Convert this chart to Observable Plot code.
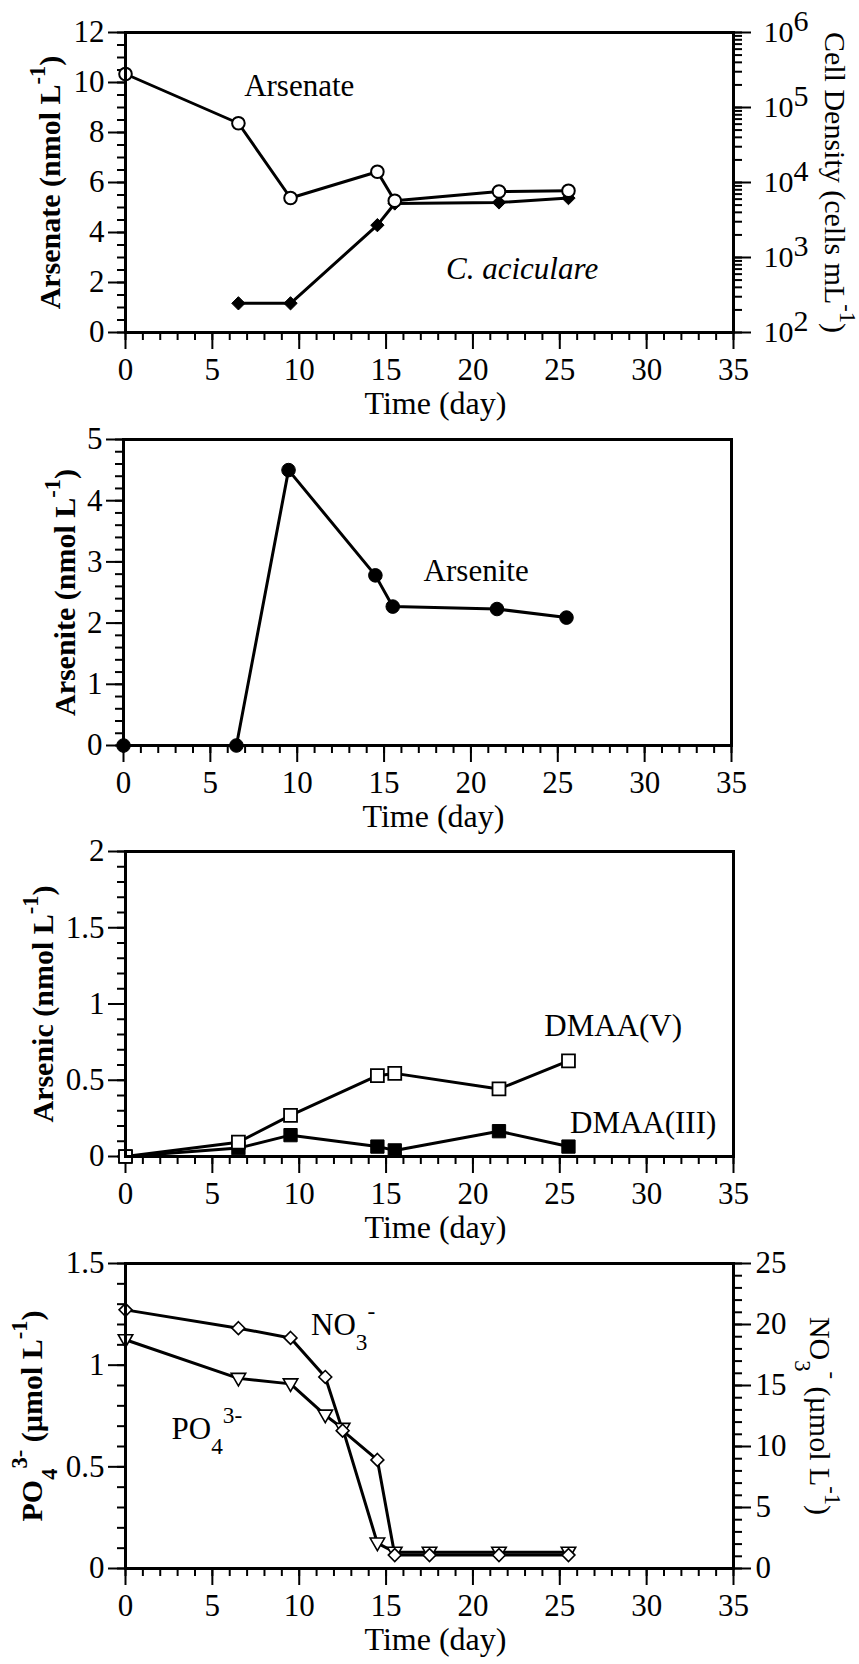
<!DOCTYPE html>
<html>
<head>
<meta charset="utf-8">
<script src="https://cdn.jsdelivr.net/npm/d3@7"></script>
<script src="https://cdn.jsdelivr.net/npm/@observablehq/plot@0.6"></script>
<style>
  html, body { margin: 0; padding: 0; background: #fff; }
  #chart svg { display: block; }
</style>
</head>
<body>
<div id="chart"></div>
<script>
// ---------- data ----------
const days = [0, 6.5, 9.5, 14.5, 15.5, 21.5, 25.5];
const arsenate = [10.34, 8.37, 5.38, 6.43, 5.27, 5.64, 5.67];
const cellDays = [6.5, 9.5, 14.5, 15.5, 21.5, 25.5];
const cellDensity = [245, 245, 2700, 5250, 5420, 6200];
const arsenite = [0, 0, 4.5, 2.78, 2.27, 2.23, 2.09];
const dmaaV = [0, 0.094, 0.27, 0.53, 0.545, 0.443, 0.627];
const dmaaIII = [0, 0.055, 0.14, 0.065, 0.04, 0.166, 0.065];
const nutrientDays = [0, 6.5, 9.5, 11.5, 12.5, 14.5, 15.5, 17.5, 21.5, 25.5];
const phosphate = [1.125, 0.935, 0.908, 0.754, 0.689, 0.125, 0.08, 0.08, 0.08, 0.08];
const nitrate = [21.2, 19.7, 18.9, 15.7, 11.3, 8.9, 1.1, 1.1, 1.1, 1.1];

const xMajorTicks = [0, 5, 10, 15, 20, 25, 30, 35];
const cellTicks = [1e2, 1e3, 1e4, 1e5, 1e6];
const nitrateTicks = [0, 5, 10, 15, 20, 25];

// ---------- helpers ----------
const FONT = "'Liberation Serif', 'Times New Roman', serif";
const logToLeft = (c) => (Math.log10(c) - 2) * 3;        // 10^2..10^6 -> 0..12
const no3ToLeft = (v) => v * 0.06;                        // 0..25 -> 0..1.5
const cellMinor = [];
for (let k = 2; k < 6; k++) for (let m = 1; m < 10; m++) cellMinor.push(m * Math.pow(10, k));
cellMinor.push(1e6);

const triangleDown = {
  draw(context, size) {
    const r = Math.sqrt(size / Math.PI);
    const w = r * 1.15, h1 = r * 0.8, h2 = r * 1.2;
    context.moveTo(-w, -h1);
    context.lineTo(w, -h1);
    context.lineTo(0, h2);
    context.closePath();
  }
};

function commonMarks(o) {
  return [
    Plot.axisX(d3.range(0, 36, 1), {tickSize: 8, tickFormat: () => "", strokeWidth: 2, label: null}),
    Plot.axisX(xMajorTicks, {tickSize: 17, tickPadding: 8, fontSize: 31, strokeWidth: 2, label: null, tickFormat: d3.format("d")}),
    Plot.axisY(o.yMinor, {tickSize: 8, tickFormat: () => "", strokeWidth: 2, label: null}),
    Plot.axisY(o.yMajor, {tickSize: 17, tickPadding: 4, fontSize: 31, strokeWidth: 2, label: null, tickFormat: o.yFormat}),
    Plot.text(["Time (day)"], {frameAnchor: "bottom", dy: 71, dx: 6, fontSize: 32, lineAnchor: "middle", textAnchor: "middle"}),
    Plot.text([o.leftTitle], {frameAnchor: "left", dx: o.leftDx, rotate: -90, fontSize: 30, fontWeight: "bold", lineAnchor: "middle", textAnchor: "middle"})
  ];
}

function makePlot(o) {
  return Plot.plot({
    width: 859,
    height: o.height,
    marginTop: o.mt,
    marginBottom: o.mb,
    marginLeft: o.ml ?? 125,
    marginRight: o.mr ?? 126,
    style: {fontFamily: FONT, background: "white", color: "black", overflow: "visible"},
    x: {domain: [0, 35]},
    y: {domain: o.yDomain},
    marks: [
      ...commonMarks(o),
      ...o.marks,
      Plot.frame({stroke: "black", strokeWidth: 3})
    ]
  });
}

// ---------- panels ----------
const p1 = makePlot({
  height: 410, mt: 32, mb: 78,
  yDomain: [0, 12],
  yMajor: d3.range(0, 13, 2),
  yMinor: d3.range(0, 12.01, 0.5),
  yFormat: d3.format("d"),
  leftTitle: "Arsenate (nmol L^{-1})", leftDx: -75,
  marks: [
    Plot.axisY(cellMinor.map(logToLeft), {anchor: "right", tickSize: 8, tickFormat: () => "", strokeWidth: 2, label: null}),
    Plot.axisY(cellTicks.map(logToLeft), {anchor: "right", tickSize: 17, tickPadding: 13, fontSize: 30, strokeWidth: 2, label: null,
      textAnchor: "start", tickFormat: (d) => "10^^{" + Math.round(d / 3 + 2) + "}"}),
    Plot.text(["Cell Density (cells mL^{-1})"], {frameAnchor: "right", dx: 101, rotate: 90, fontSize: 30, lineAnchor: "middle", textAnchor: "middle"}),
    Plot.line(cellDensity, {x: cellDays, y: (d) => logToLeft(d), stroke: "black", strokeWidth: 3}),
    Plot.line(arsenate, {x: days, y: arsenate, stroke: "black", strokeWidth: 3}),
    Plot.dot(cellDensity, {x: cellDays, y: (d) => logToLeft(d), symbol: "diamond2", r: 6, fill: "black", stroke: "black", strokeWidth: 1}),
    Plot.dot(arsenate, {x: days, y: arsenate, symbol: "circle", r: 6.3, fill: "white", stroke: "black", strokeWidth: 2}),
    Plot.text(["Arsenate"], {x: 10, y: 9.84, fontSize: 31}),
    Plot.text(["C. aciculare"], {x: 22.83, y: 2.52, fontSize: 31, fontStyle: "italic"})
  ]
});

const p2 = makePlot({
  height: 410, mt: 29, mb: 75, ml: 123, mr: 128,
  yDomain: [0, 5],
  yMajor: d3.range(0, 6, 1),
  yMinor: d3.range(0, 5.01, 0.2),
  yFormat: d3.format("d"),
  leftTitle: "Arsenite (nmol L^{-1})", leftDx: -58,
  marks: [
    Plot.line(arsenite, {x: days, y: arsenite, stroke: "black", strokeWidth: 3}),
    Plot.dot(arsenite, {x: days, y: arsenite, symbol: "circle", r: 6.8, fill: "black", stroke: "black", strokeWidth: 1}),
    Plot.text(["Arsenite"], {x: 20.3, y: 2.85, fontSize: 31})
  ]
});

const p3 = makePlot({
  height: 410, mt: 31, mb: 74,
  yDomain: [0, 2],
  yMajor: [0, 0.5, 1, 1.5, 2],
  yMinor: d3.range(0, 2.001, 0.1),
  yFormat: d3.format("~g"),
  leftTitle: "Arsenic (nmol L^{-1})", leftDx: -82,
  marks: [
    Plot.line(dmaaIII, {x: days, y: dmaaIII, stroke: "black", strokeWidth: 3}),
    Plot.line(dmaaV, {x: days, y: dmaaV, stroke: "black", strokeWidth: 3}),
    Plot.dot(dmaaIII, {x: days, y: dmaaIII, symbol: "square", r: 7.5, fill: "black", stroke: "black", strokeWidth: 1}),
    Plot.dot(dmaaV, {x: days, y: dmaaV, symbol: "square", r: 7.3, fill: "white", stroke: "black", strokeWidth: 1.8}),
    Plot.text(["DMAA(V)"], {x: 28.07, y: 0.854, fontSize: 31}),
    Plot.text(["DMAA(III)"], {x: 29.8, y: 0.218, fontSize: 31})
  ]
});

const p4 = makePlot({
  height: 434, mt: 33, mb: 96,
  yDomain: [0, 1.5],
  yMajor: [0, 0.5, 1, 1.5],
  yMinor: d3.range(0, 1.501, 0.1),
  yFormat: d3.format("~g"),
  leftTitle: "PO_{4}^{3-} (µmol L^{-1})", leftDx: -93,
  marks: [
    Plot.axisY(d3.range(0, 25.01, 1).map(no3ToLeft), {anchor: "right", tickSize: 8, tickFormat: () => "", strokeWidth: 2, label: null}),
    Plot.axisY(nitrateTicks.map(no3ToLeft), {anchor: "right", tickSize: 17, tickPadding: 5, fontSize: 31, strokeWidth: 2, label: null,
      textAnchor: "start", tickFormat: (d) => String(Math.round(d / 0.06))}),
    Plot.text(["NO_{3}^{-} (µmol L^{-1})"], {frameAnchor: "right", dx: 86, rotate: 90, fontSize: 30, lineAnchor: "middle", textAnchor: "middle"}),
    Plot.line(phosphate, {x: nutrientDays, y: phosphate, stroke: "black", strokeWidth: 3}),
    Plot.line(nitrate, {x: nutrientDays, y: (d) => no3ToLeft(d), stroke: "black", strokeWidth: 3}),
    Plot.dot(phosphate, {x: nutrientDays, y: phosphate, symbol: triangleDown, r: 6.3, fill: "white", stroke: "black", strokeWidth: 1.6}),
    Plot.dot(nitrate, {x: nutrientDays, y: (d) => no3ToLeft(d), symbol: "diamond2", r: 5.8, fill: "white", stroke: "black", strokeWidth: 1.6}),
    Plot.text(["NO_{3}^{-}"], {x: 10.68, y: 1.198, fontSize: 31, textAnchor: "start"}),
    Plot.text(["PO_{4}^{3-}"], {x: 2.65, y: 0.687, fontSize: 31, textAnchor: "start"})
  ]
});

const chart = document.getElementById("chart");
[p1, p2, p3, p4].forEach((p) => chart.appendChild(p));

// ---------- superscript / subscript markup -> tspans ----------
function richText(root) {
  root.querySelectorAll("text").forEach((t) => {
    const s = t.textContent;
    if (!/(\^\^|\^|_)\{/.test(s)) return;
    const fs = parseFloat(getComputedStyle(t).fontSize) || 30;
    while (t.firstChild) t.removeChild(t.firstChild);
    const re = /(\^\^|\^|_)\{([^}]*)\}/g;
    let last = 0, shift = 0, m;
    const add = (str, kind) => {
      if (!str) return;
      const ts = document.createElementNS("http://www.w3.org/2000/svg", "tspan");
      let target = 0, size = fs;
      if (kind === "^") { target = -0.5 * fs; size = 0.75 * fs; }
      else if (kind === "^^") { target = -0.38 * fs; size = 1.0 * fs; }
      else if (kind === "_") { target = 0.5 * fs; size = 0.75 * fs; }
      if (target !== shift) ts.setAttribute("dy", (target - shift).toFixed(2));
      shift = target;
      if (size !== fs) ts.setAttribute("font-size", size.toFixed(2));
      ts.textContent = str;
      t.appendChild(ts);
    };
    while ((m = re.exec(s))) {
      add(s.slice(last, m.index), "");
      add(m[2], m[1]);
      last = re.lastIndex;
    }
    add(s.slice(last), "");
  });
}
richText(chart);
</script>
</body>
</html>
